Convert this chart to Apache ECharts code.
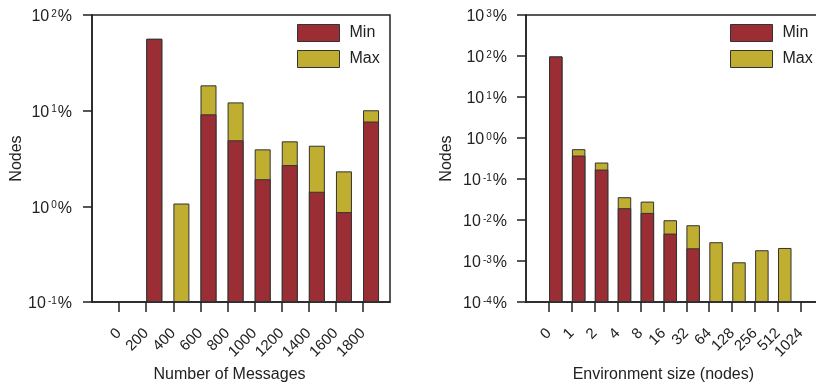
<!DOCTYPE html>
<html>
<head>
<meta charset="utf-8">
<script src="https://cdn.jsdelivr.net/npm/echarts@6/dist/echarts.min.js"></script>
<style>
html,body{margin:0;padding:0;background:#fff;}
#chart{width:816px;height:385px;}
</style>
</head>
<body>
<div id="chart"></div>
<script>
// ---- data ----
const msgLabels = ['0','200','400','600','800','1000','1200','1400','1600','1800'];
const msgMin = [null, 56.4, null, 9.15, 4.9, 1.92, 2.7, 1.42, 0.87, 7.7];
const msgMax = [null, 56.4, 1.07, 18.4, 12.2, 3.94, 4.78, 4.3, 2.32, 10.1];

const envLabels = ['0','1','2','4','8','16','32','64','128','256','512','1024'];
const envMin = [97.5, 0.373, 0.170, 0.0194, 0.0149, 0.00466, 0.00204, null, null, null, null, null];
const envMax = [97.5, 0.534, 0.252, 0.036, 0.0281, 0.00987, 0.00745, 0.00287, 0.00093, 0.00183, 0.00208, null];

// ---- styles ----
const RED = '#9b2d35';
const YEL = '#bfae2f';
const INK = '#222';
const FONT = '"Liberation Sans", Arial, Helvetica, sans-serif';
const BAR_OFFSET = 0.3; // bars start at the tick (left-aligned in each slot)

function toPairs(arr) {
  return arr.map((v, i) => [i + 1 + BAR_OFFSET, v == null ? '-' : v]);
}
function idxList(arr) { return arr.map((_, i) => i + 1); }

function yLabelFmt(v) {
  const e = Math.round(Math.log10(v));
  return '{n|10}{s|' + e + '}{n|%}';
}
const yRich = {
  n: { fontSize: 16, color: INK, fontFamily: FONT },
  s: { fontSize: 10, color: INK, fontFamily: FONT, verticalAlign: 'top', padding: [0, 1, 0, 2] }
};

function xAxisCfg(gridIndex, labels, maxV, name) {
  const ids = idxList(labels);
  return {
    type: 'value', gridIndex, min: 0, max: maxV,
    name, nameLocation: 'middle', nameGap: 65,
    nameTextStyle: { fontSize: 16, color: INK, fontFamily: FONT, padding: [0, 23, 0, 0] },
    axisLine: { show: true, onZero: false, lineStyle: { color: INK, width: 1.5 } },
    axisTick: { show: true, inside: false, length: 10, customValues: ids, lineStyle: { color: INK, width: 1.5 } },
    axisLabel: {
      customValues: ids, rotate: 45, margin: 29, fontSize: 15, color: INK, fontFamily: FONT,
      formatter: v => labels[Math.round(v) - 1]
    },
    splitLine: { show: false }
  };
}
function yAxisCfg(gridIndex, minV, maxV, margin, nameGap) {
  return {
    type: 'log', logBase: 10, gridIndex, min: minV, max: maxV, startValue: minV, interval: 1,
    name: 'Nodes', nameLocation: 'middle', nameGap,
    nameTextStyle: { fontSize: 16, color: INK, fontFamily: FONT },
    axisLine: { show: true, lineStyle: { color: INK, width: 1.5 } },
    axisTick: { show: true, length: 9, lineStyle: { color: INK, width: 1.5 } },
    axisLabel: { margin, formatter: yLabelFmt, rich: yRich, padding: [4, 0, 0, 0] },
    splitLine: { show: false },
    minorTick: { show: false }
  };
}
function legendCfg(left) {
  return {
    orient: 'vertical', left, top: 24, padding: 0, itemWidth: 42, itemHeight: 17, itemGap: 8,
    icon: 'rect', data: ['Min', 'Max'],
    textStyle: { fontSize: 16, color: INK, fontFamily: FONT, padding: [0, 0, 0, 5] },
    itemStyle: { borderColor: '#333', borderWidth: 1 }
  };
}
function barSeries(name, data, xi, color, z) {
  return {
    type: 'bar', name, xAxisIndex: xi, yAxisIndex: xi, data: toPairs(data),
    barWidth: xi === 0 ? 16 : 13.5, barGap: '-100%', z,
    itemStyle: { color, borderColor: '#333', borderWidth: 1 },
    emphasis: { disabled: true }, animation: false
  };
}

const gridBase = { top: 15, height: 287, show: true, borderColor: INK, borderWidth: 1.5, containLabel: false, outerBoundsMode: 'none' };

const chart = echarts.init(document.getElementById('chart'), null, { renderer: 'canvas' });
chart.setOption({
  animation: false,
  backgroundColor: '#fff',
  textStyle: { fontFamily: FONT },
  grid: [
    Object.assign({ left: 92, width: 298 }, gridBase),
    Object.assign({ left: 526, width: 297.7 }, gridBase)
  ],
  legend: [legendCfg(297), legendCfg(730)],
  xAxis: [
    xAxisCfg(0, msgLabels, 11, 'Number of Messages'),
    xAxisCfg(1, envLabels, 13, 'Environment size (nodes)')
  ],
  yAxis: [
    yAxisCfg(0, 0.1, 100, 20, 65),
    yAxisCfg(1, 0.0001, 1000, 19, 71)
  ],
  series: [
    barSeries('Max', msgMax, 0, YEL, 2),
    barSeries('Min', msgMin, 0, RED, 3),
    barSeries('Max', envMax, 1, YEL, 2),
    barSeries('Min', envMin, 1, RED, 3)
  ]
});
</script>
</body>
</html>
